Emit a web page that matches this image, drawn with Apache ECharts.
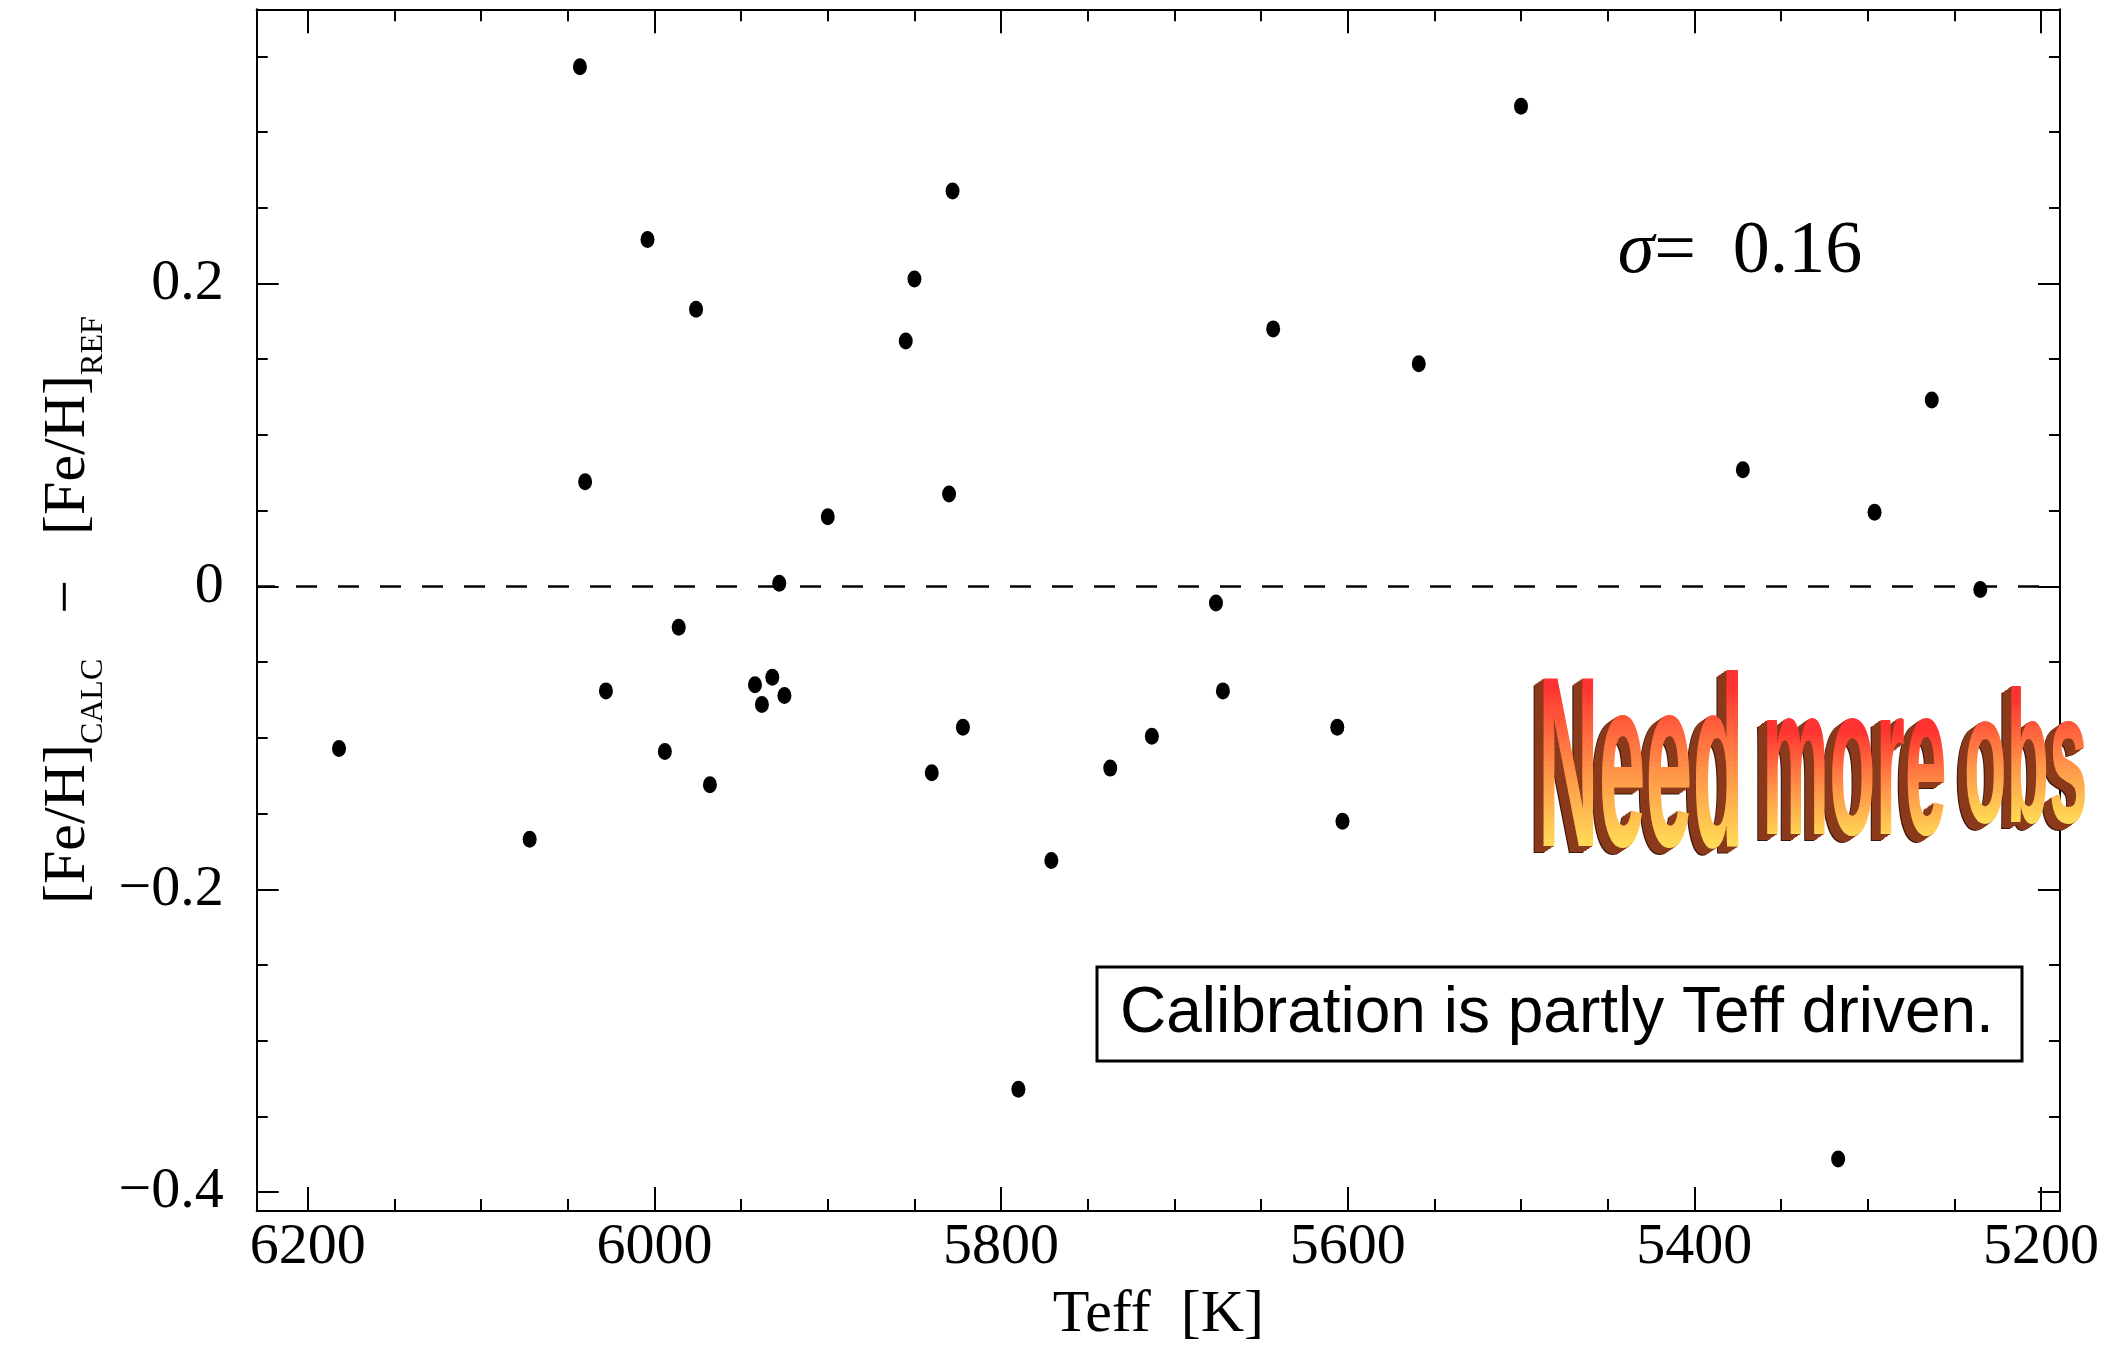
<!DOCTYPE html>
<html><head><meta charset="utf-8">
<script src="https://cdn.jsdelivr.net/npm/echarts@6/dist/echarts.min.js"></script>
<style>html,body{margin:0;padding:0;background:#fff}#c{width:2118px;height:1350px}</style>
</head><body><div id="c"></div>
<script>
// ---- data ----
const teff = [6182, 6072, 6043, 6040, 6028, 6004, 5994, 5986, 5976, 5968, 5942, 5938, 5932, 5928, 5925, 5900, 5855, 5850, 5840, 5830, 5828, 5822, 5790, 5771, 5737, 5713, 5676, 5672, 5643, 5606, 5603, 5559, 5500, 5372, 5317, 5296, 5263, 5235];
const dFeH = [-0.107, -0.167, 0.343, 0.069, -0.069, 0.229, -0.109, -0.027, 0.183, -0.131, -0.065, -0.078, -0.060, 0.002, -0.072, 0.046, 0.162, 0.203, -0.123, 0.061, 0.261, -0.093, -0.332, -0.181, -0.120, -0.099, -0.011, -0.069, 0.170, -0.093, -0.155, 0.147, 0.317, 0.077, -0.378, 0.049, 0.123, -0.002];
const xMajorTicks = [5200, 5400, 5600, 5800, 6000, 6200];
const xMinorTicks = [5250, 5300, 5350, 5450, 5500, 5550, 5650, 5700, 5750, 5850, 5900, 5950, 6050, 6100, 6150];
const yMajorTicks = [-0.4, -0.2, 0, 0.2];
const yMinorTicks = [-0.35, -0.3, -0.25, -0.15, -0.1, -0.05, 0.05, 0.1, 0.15, 0.25, 0.3, 0.35];
const xRange = [5189, 6229.5];
const yRange = [-0.4124, 0.381];
const zeroLine = [0];
const xTitle = 'Teff  [K]';
const yTitle = '{m|[Fe/H]}{s|CALC}{m|   \u2212   [Fe/H]}{s|REF}';
const sigmaLabel = '{i|\u03c3}{n|=  0.16}';
const noteText = 'Calibration is partly Teff driven.';
const bannerWords = ['Need', 'more', 'obs'];

// ---- chart ----
const SERIF = 'Liberation Serif';
const black = '#000';

function xAx(pos, vals, len, line, label) {
  return {
    type: 'value', position: pos, min: xRange[0], max: xRange[1], inverse: true,
    axisLine: { show: line, onZero: false, lineStyle: { color: black, width: 2 } },
    axisTick: { show: true, inside: true, length: len, customValues: vals, lineStyle: { color: black, width: 2 } },
    axisLabel: { show: label, customValues: vals, margin: 8, color: black, fontFamily: SERIF, fontSize: 58,
      formatter: v => String(v) },
    splitLine: { show: false }, minorTick: { show: false }
  };
}
function yAx(pos, vals, len, line, label) {
  return {
    type: 'value', position: pos, min: yRange[0], max: yRange[1],
    axisLine: { show: line, onZero: false, lineStyle: { color: black, width: 2 } },
    axisTick: { show: true, inside: true, length: len, customValues: vals, lineStyle: { color: black, width: 2 } },
    axisLabel: { show: label, customValues: vals, margin: 33, color: black, fontFamily: SERIF, fontSize: 58,
      formatter: v => (v < 0 ? '\u2212' + Math.abs(v) : String(v)) },
    splitLine: { show: false }, minorTick: { show: false }
  };
}

const xMain = xAx('bottom', xMajorTicks, 24, true, true);
Object.assign(xMain, {
  name: xTitle, nameLocation: 'middle', nameGap: 74, nameMoveOverlap: false,
  nameTextStyle: { fontFamily: SERIF, fontSize: 60, color: black }
});
const yMain = yAx('left', yMajorTicks, 22, true, true);
Object.assign(yMain, {
  name: yTitle, nameLocation: 'middle', nameRotate: 90, nameGap: 158, nameMoveOverlap: false,
  nameTextStyle: {
    color: black,
    rich: {
      m: { fontFamily: SERIF, fontSize: 60, lineHeight: 60, color: black },
      s: { fontFamily: SERIF, fontSize: 32, lineHeight: 32, padding: [50, 0, 0, 0], color: black }
    }
  }
});

const option = {
  animation: false,
  backgroundColor: '#fff',
  grid: { left: 256.7, right: 58, top: 9.3, bottom: 136.7, containLabel: false },
  xAxis: [
    xMain,
    xAx('bottom', xMinorTicks, 12, false, false),
    xAx('top', xMajorTicks, 24, true, false),
    xAx('top', xMinorTicks, 12, false, false)
  ],
  yAxis: [
    yMain,
    yAx('left', yMinorTicks, 11, false, false),
    yAx('right', yMajorTicks, 22, true, false),
    yAx('right', yMinorTicks, 11, false, false)
  ],
  series: [{
    type: 'scatter', xAxisIndex: 0, yAxisIndex: 0,
    symbol: 'circle', symbolSize: [14, 17],
    itemStyle: { color: black, opacity: 1 },
    data: teff.map((t, i) => [t, dFeH[i]]),
    markLine: {
      silent: true, symbol: ['none', 'none'], label: { show: false },
      lineStyle: { color: black, type: [21, 21], width: 2.5, dashOffset: 21, opacity: 1 },
      data: zeroLine.map(v => ({ yAxis: v }))
    },
    z: 5
  }],
  graphic: [
    { type: 'text', x: 1740, y: 253, z: 100,
      style: { text: sigmaLabel, align: 'center', verticalAlign: 'middle', textAlign: 'center', textVerticalAlign: 'middle', fill: black,
        rich: { i: { fontFamily: SERIF, fontStyle: 'italic', fontSize: 74 }, n: { fontFamily: SERIF, fontSize: 74 } } } },
    { type: 'rect', z: 100, shape: { x: 1097, y: 967, width: 925, height: 94 },
      style: { fill: '#fff', stroke: black, lineWidth: 3 } },
    { type: 'text', x: 1120, y: 1014, z: 101,
      style: { text: noteText, font: '64px "Liberation Sans"', fill: black, align: 'left', verticalAlign: 'middle', textAlign: 'left', textVerticalAlign: 'middle' } }
  ]
};

const chart = echarts.init(document.getElementById('c'), null, { renderer: 'canvas' });
chart.setOption(option);

// ---- "Need more obs" word-art banner (decorative annotation) ----
const bannerSpec = [
  { x: 1538, base: 864, size: 244, sx: 0.345, top: -0.74 },
  { x: 1762, base: 850, size: 216, sx: 0.35, top: -0.56 },
  { x: 1964, base: 836, size: 188, sx: 0.37, top: -0.74 }
];
function lerpColor(a, b, t) {
  const pa = [1, 3, 5].map(j => parseInt(a.substr(j, 2), 16));
  const pb = [1, 3, 5].map(j => parseInt(b.substr(j, 2), 16));
  return 'rgb(' + pa.map((v, j) => Math.round(v + (pb[j] - v) * t)).join(',') + ')';
}
function faceColor(f) {
  return f < 0.5 ? lerpColor('#ff3030', '#ff9a4a', f / 0.5) : lerpColor('#ff9a4a', '#fff35a', (f - 0.5) / 0.5);
}
const G = echarts.graphic;
const zr = chart.getZr();
bannerWords.forEach((w, i) => {
  const s = bannerSpec[i];
  const font = 'bold ' + s.size + 'px "Liberation Sans"';
  const ty = -0.35 * s.size;
  const g = new G.Group({ x: s.x, y: s.base, scaleX: s.sx });
  for (let k = 10; k >= 1; k--) {
    g.add(new G.Text({ x: -k / s.sx, y: ty + k * 0.7, z: 120,
      style: { text: w, font: font, fill: k > 9 ? '#3a1608' : '#8b3a1c', align: 'left', verticalAlign: 'middle' } }));
  }
  const top = s.top * s.size, bot = 0.03 * s.size, NB = 36;
  for (let b = 0; b < NB; b++) {
    const y0 = top + (bot - top) * b / NB;
    const y1 = top + (bot - top) * (b + 1) / NB;
    const yy0 = b === 0 ? y0 - s.size : y0;
    const yy1 = b === NB - 1 ? y1 + s.size : y1 + 0.8;
    const t = new G.Text({ x: 0, y: ty, z: 121,
      style: { text: w, font: font, fill: faceColor((b + 0.5) / NB), align: 'left', verticalAlign: 'middle' } });
    t.setClipPath(new G.Rect({ shape: { x: -100, y: yy0 - ty, width: s.size * 6, height: yy1 - yy0 } }));
    g.add(t);
  }
  zr.add(g);
});
</script>
</body></html>
